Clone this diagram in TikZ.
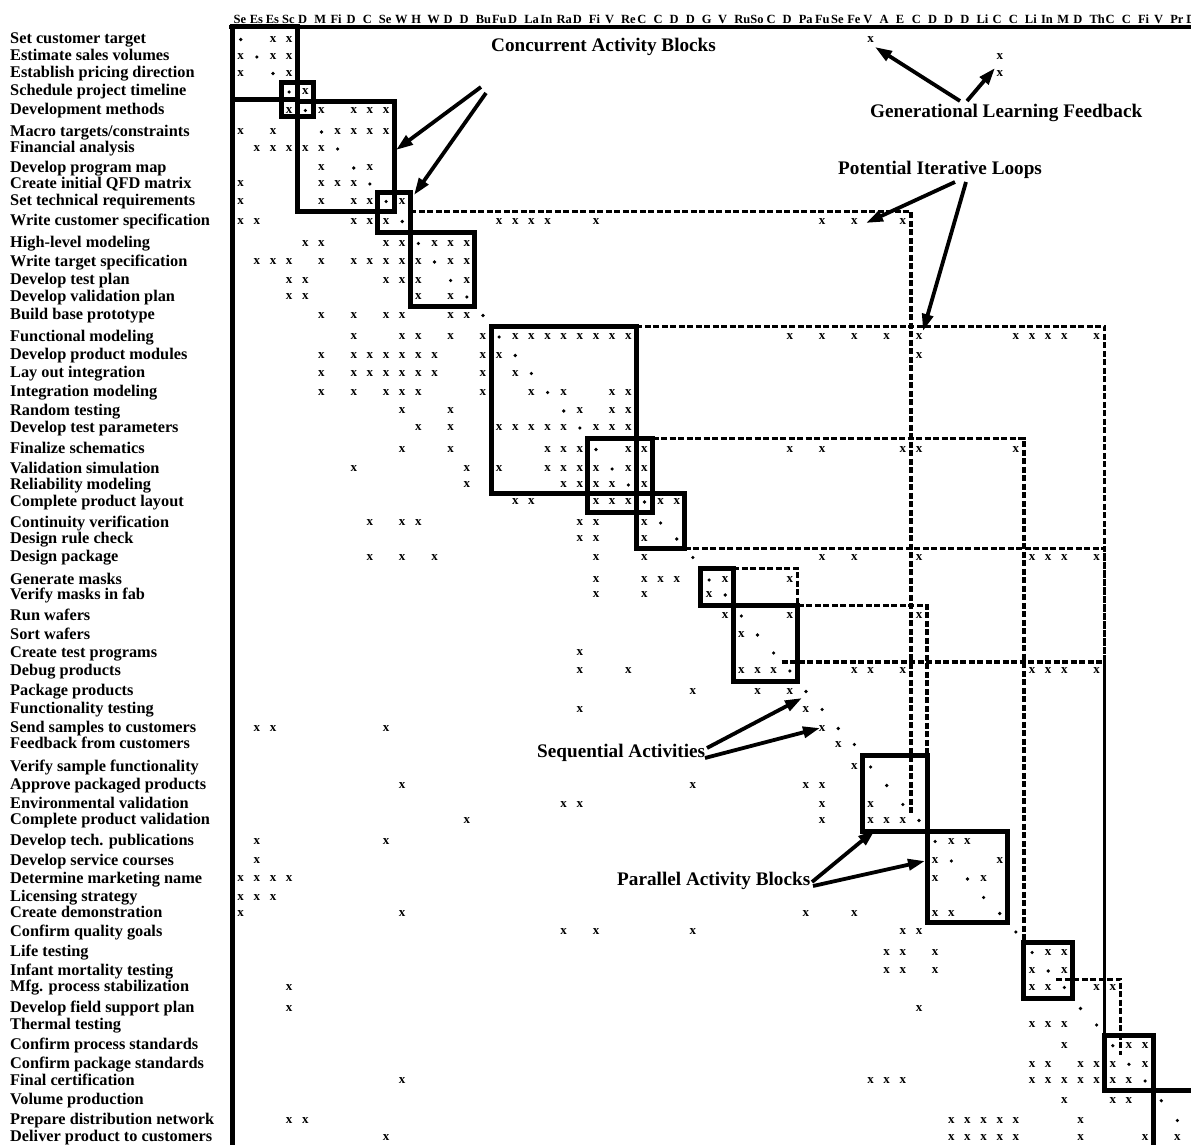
\documentclass[tikz,border=0pt]{standalone}
\usepackage{fontspec}
\setmainfont{Liberation Serif}
\usetikzlibrary{arrows.meta}
\def\ylist{{39.5,57,73.5,92,110.5,132,149,168,184,201.5,221.5,243.5,262,280.5,297,315.5,337,355.5,373.5,392.5,411,428,449.5,469,485,502,523,539,557.5,580,595,616,635,653,671,691.5,709.5,728.5,744.5,767,785.5,804.5,820.5,841.5,861,879,897.5,913.5,932,952.5,971,987.5,1008.5,1025,1045.7,1064.3,1081,1100.7,1120.5,1137.2}}
\tikzset{
  xmk/.style={font=\fontsize{13}{13}\selectfont\bfseries, inner sep=0pt},
  dotmk/.style={circle, fill=black, inner sep=0pt, minimum size=3.6pt},
  rowlab/.style={font=\fontsize{16.3}{18}\selectfont\bfseries, anchor=base west, inner sep=0pt},
  collab/.style={font=\fontsize{12.5}{13}\selectfont\bfseries, anchor=base west, inner sep=0pt},
  annot/.style={font=\fontsize{19.2}{21}\selectfont\bfseries, anchor=base west, inner sep=0pt},
  blockline/.style={line width=5pt, line join=miter},
  loopline/.style={line width=3.2pt, dash pattern=on 6pt off 2.5pt},
  arr/.style={line width=3.8pt, -{Triangle[length=17pt,width=11pt]}},
}
\newcommand\rowbnd[2]{%
  \pgfmathsetmacro\tmpA{\ylist[#1-1]}%
  \pgfmathsetmacro\tmpB{\ylist[#1]}%
  \pgfmathsetmacro#2{0.5*\tmpA+0.5*\tmpB}%
}
\newcommand\marksrow[2]{%
  \pgfmathsetmacro\yy{\ylist[#1-1]}%
  \foreach \c in {#2}{\node[xmk] (m#1-\c) at ({240.7+(\c-1)*16.15},\yy) {x};}%
}
\newcommand\blockrc[2]{%
  \pgfmathsetmacro\bxA{232.6+(#1-1)*16.15}%
  \pgfmathsetmacro\bxB{232.6+#2*16.15}%
  \rowbnd{#1-1}{\byA}%
  \rowbnd{#2}{\byB}%
  \draw[blockline] (\bxA,\byA) rectangle (\bxB,\byB);%
}
\newcommand\loopL[3]{%
  \pgfmathsetmacro\lxA{#3}%
  \pgfmathsetmacro\lxB{232.6+#2*16.15}%
  \rowbnd{#1-1}{\lyA}%
  \rowbnd{#2}{\lyB}%
  \draw[loopline] (\lxA,\lyA) -- (\lxB,\lyA) -- (\lxB,\lyB);%
}
\begin{document}
\begin{tikzpicture}[x=1pt,y=-1pt]
\useasboundingbox (0,0) rectangle (1191,1145);
\fill[white] (0,0) rectangle (1191,1145);
\clip (0,0) rectangle (1191,1145);

% row labels
\foreach \lab [count=\i] in {Set customer target,Estimate sales volumes,Establish pricing direction,Schedule project timeline,Development methods,Macro targets/constraints,Financial analysis,Develop program map,Create initial QFD matrix,Set technical requirements,Write customer specification,High-level modeling,Write target specification,Develop test plan,Develop validation plan,Build base prototype,Functional modeling,Develop product modules,Lay out integration,Integration modeling,Random testing,Develop test parameters,Finalize schematics,Validation simulation,Reliability modeling,Complete product layout,Continuity verification,Design rule check,Design package,Generate masks,Verify masks in fab,Run wafers,Sort wafers,Create test programs,Debug products,Package products,Functionality testing,Send samples to customers,Feedback from customers,Verify sample functionality,Approve packaged products,Environmental validation,Complete product validation,Develop tech. publications,Develop service courses,Determine marketing name,Licensing strategy,Create demonstration,Confirm quality goals,Life testing,Infant mortality testing,Mfg. process stabilization,Develop field support plan,Thermal testing,Confirm process standards,Confirm package standards,Final certification,Volume production,Prepare distribution network,Deliver product to customers}{
  \pgfmathsetmacro\yy{\ylist[\i-1]}
  \node[rowlab] (lab\i) at (10,\yy+4) {\lab};
}

% column headers (truncated activity names)
\foreach \hd [count=\i] in {Se,Es,Es,Sc,D,M,Fi,D,C,Se,W,H,W,D,D,Bu,Fu,D,La,In,Ra,D,Fi,V,Re,C,C,D,D,G,V,Ru,So,C,D,Pa,Fu,Se,Fe,V,A,E,C,D,D,D,Li,C,C,Li,In,M,D,Th,C,C,Fi,V,Pr,D}{
  \pgfmathsetmacro\hx{233.4+(\i-1)*16.15}
  \node[collab] (hd\i) at (\hx,24) {\hd};
}

% diagonal dots
\foreach \i in {1,...,59}{
  \pgfmathsetmacro\yy{\ylist[\i-1]}
  \node[dotmk] (d\i) at ({240.7+(\i-1)*16.15},\yy) {};
}

% marks
\marksrow{1}{3,4,40}
\marksrow{2}{1,3,4,48}
\marksrow{3}{1,4,48}
\marksrow{4}{5}
\marksrow{5}{4,6,8,9,10}
\marksrow{6}{1,3,7,8,9,10}
\marksrow{7}{2,3,4,5,6}
\marksrow{8}{6,9}
\marksrow{9}{1,6,7,8}
\marksrow{10}{1,6,8,9,11}
\marksrow{11}{1,2,8,9,10,17,18,19,20,23,37,39,42}
\marksrow{12}{5,6,10,11,13,14,15}
\marksrow{13}{2,3,4,6,8,9,10,11,12,14,15}
\marksrow{14}{4,5,10,11,12,15}
\marksrow{15}{4,5,12,14}
\marksrow{16}{6,8,10,11,14,15}
\marksrow{17}{8,11,12,14,16,18,19,20,21,22,23,24,25,35,37,39,41,43,49,50,51,52,54}
\marksrow{18}{6,8,9,10,11,12,13,16,17,43}
\marksrow{19}{6,8,9,10,11,12,13,16,18}
\marksrow{20}{6,8,10,11,12,16,19,21,24,25}
\marksrow{21}{11,14,22,24,25}
\marksrow{22}{12,14,17,18,19,20,21,23,24,25}
\marksrow{23}{11,14,20,21,22,25,26,35,37,42,43,49}
\marksrow{24}{8,15,17,20,21,22,23,25,26}
\marksrow{25}{15,21,22,23,24,26}
\marksrow{26}{18,19,23,24,25,27,28}
\marksrow{27}{9,11,12,22,23,26}
\marksrow{28}{22,23,26}
\marksrow{29}{9,11,13,23,26,37,39,43,50,51,52,54}
\marksrow{30}{23,26,27,28,31,35}
\marksrow{31}{23,26,30}
\marksrow{32}{31,35,43}
\marksrow{33}{32}
\marksrow{34}{22}
\marksrow{35}{22,25,32,33,34,39,40,42,50,51,52,54}
\marksrow{36}{29,33,35}
\marksrow{37}{22,36}
\marksrow{38}{2,3,10,37}
\marksrow{39}{38}
\marksrow{40}{39}
\marksrow{41}{11,29,36,37}
\marksrow{42}{21,22,37,40}
\marksrow{43}{15,37,40,41,42}
\marksrow{44}{2,10,45,46}
\marksrow{45}{2,44,48}
\marksrow{46}{1,2,3,4,44,47}
\marksrow{47}{1,2,3}
\marksrow{48}{1,11,36,39,44,45}
\marksrow{49}{21,23,29,42,43}
\marksrow{50}{41,42,44,51,52}
\marksrow{51}{41,42,44,50,52}
\marksrow{52}{4,50,51,54,55}
\marksrow{53}{4,43}
\marksrow{54}{50,51,52}
\marksrow{55}{52,56,57}
\marksrow{56}{50,51,53,54,55,57}
\marksrow{57}{11,40,41,42,50,51,52,53,54,55,56}
\marksrow{58}{52,55,56}
\marksrow{59}{4,5,45,46,47,48,49,53}
\marksrow{60}{10,45,46,47,48,49,53,57,59}

% potential iterative loops (dashed)
\loopL{11}{42}{410.25}
\loopL{17}{54}{636.35}
\loopL{23}{49}{652.5}
\loopL{29}{54}{684.8}
\loopL{30}{35}{733.25}
\loopL{32}{43}{797.85}
\loopL{35}{54}{781.7}
\loopL{52}{55}{1056.3}

% frame
\draw[line width=4pt] (229,27) -- (1191,27);
\draw[line width=5pt] (232.6,27) -- (232.6,1146);

% activity blocks
\draw[blockline] (232.6,27) rectangle (297.2,100);
\draw[blockline] (281.05,82.75) rectangle (313.35,117);
\blockrc{5}{10}
\blockrc{10}{11}
\blockrc{12}{15}
\blockrc{17}{25}
\blockrc{23}{26}
\blockrc{26}{28}
\blockrc{30}{31}
\blockrc{32}{35}
\blockrc{40}{43}
\blockrc{44}{48}
\blockrc{50}{52}
\blockrc{55}{57}
\draw[blockline] (1153.15,1090.85) rectangle (1201.6,1150);

% annotations
\node[annot] (concur) at (491,52) {Concurrent Activity Blocks};
\node[annot] (genfb) at (870,118) {Generational Learning Feedback};
\node[annot] (iter) at (838,175) {Potential Iterative Loops};
\node[annot] (seq) at (537,757) {Sequential Activities};
\node[annot] (par) at (617,885) {Parallel Activity Blocks};

\coordinate (c1s) at (481,87);  \coordinate (c1e) at (396,150);
\coordinate (c2s) at (486,93);  \coordinate (c2e) at (414,195);
\coordinate (g1s) at (960,101); \coordinate (g1e) at (875,47);
\coordinate (g2s) at (967,101); \coordinate (g2e) at (995,68);
\coordinate (i1s) at (955,182); \coordinate (i1e) at (866,223);
\coordinate (i2s) at (966,182); \coordinate (i2e) at (923,331);
\coordinate (s1s) at (707,748); \coordinate (s1e) at (802,698);
\coordinate (s2s) at (705,758); \coordinate (s2e) at (820,728);
\coordinate (p1s) at (812,882); \coordinate (p1e) at (875,830);
\coordinate (p2s) at (813,886); \coordinate (p2e) at (925,861);

\draw[arr] (c1s) -- (c1e);
\draw[arr] (c2s) -- (c2e);
\draw[arr] (g1s) -- (g1e);
\draw[arr] (g2s) -- (g2e);
\draw[arr] (i1s) -- (i1e);
\draw[arr] (i2s) -- (i2e);
\draw[arr] (s1s) -- (s1e);
\draw[arr] (s2s) -- (s2e);
\draw[arr] (p1s) -- (p1e);
\draw[arr] (p2s) -- (p2e);
\end{tikzpicture}
\end{document}
